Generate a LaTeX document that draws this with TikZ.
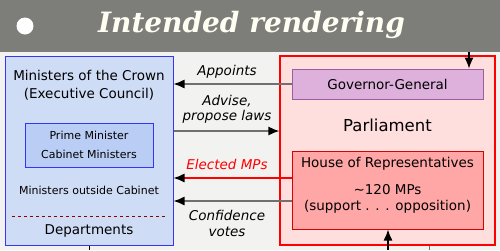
\documentclass[tikz,border=0pt]{standalone}
\usepackage{fontspec}
\setmainfont{DejaVu Sans}
\newfontfamily\titlefont{DejaVu Serif}
\usetikzlibrary{arrows.meta}
\definecolor{headgray}{HTML}{7D7D7A}
\definecolor{bggray}{HTML}{F2F2F0}
\definecolor{crownblue}{HTML}{CFDCF5}
\definecolor{cabinetblue}{HTML}{BACDF5}
\definecolor{edgeblue}{HTML}{3535F5}
\definecolor{parlred}{HTML}{FFDEDE}
\definecolor{housered}{HTML}{FFA6A6}
\definecolor{ggpurple}{HTML}{DEB1DC}
\definecolor{ggedge}{HTML}{A05AA0}
\definecolor{linegray}{HTML}{707070}
\begin{document}
\begin{tikzpicture}[x=1pt, y=-1pt,
    box/.style={draw, rectangle, inner sep=0pt},
    txt/.style={font=\fontsize{13.5}{18}\selectfont, align=center, inner sep=0pt},
    lbl/.style={font=\fontsize{13.5}{15.5}\selectfont\itshape, align=center, inner sep=0pt},
    conn/.style={draw=linegray, line width=1.3pt, -{Latex[black, length=11pt, width=9pt]}}]
    \useasboundingbox (0, 0) rectangle (500, 250);
    \fill[bggray] (0, 52) rectangle (500, 250);
    \fill[headgray] (0, 0) rectangle (500, 52);
    \fill[white] (25, 26) circle (8.5);
    \node[text = white!95!yellow, font = \titlefont\fontsize{28}{30}\selectfont\bfseries\itshape] (title) at (251.5, 25) {Intended rendering};

    \node[box, draw = edgeblue, fill = crownblue, line width = 1pt, minimum width = 168, minimum height = 189] (crown) at (89, 150.5) {};
    \node[box, draw = edgeblue, fill = cabinetblue, line width = 0.8pt, minimum width = 128, minimum height = 44] (cabinet) at (89, 145) {};
    \node[box, draw = red, fill = parlred, line width = 1.2pt, minimum width = 215, minimum height = 189] (parl) at (387.5, 150.5) {};
    \node[box, draw = ggedge, fill = ggpurple, line width = 0.8pt, minimum width = 191, minimum height = 30] (gg) at (387.5, 84) {};
    \node[box, draw = red!85!black, fill = housered, line width = 1pt, minimum width = 191, minimum height = 78] (house) at (387.5, 190) {};

    \node[txt] (crownname) at (89, 85) {Ministers of the Crown\\(Executive Council)};
    \node[txt, font = \fontsize{11}{19}\selectfont] (cabname) at (89, 144.5) {Prime Minister\\Cabinet Ministers};
    \node[txt, font = \fontsize{11}{14}\selectfont] (outside) at (89, 190) {Ministers outside Cabinet};
    \draw[red!55!black, densely dashed, dash pattern = on 3pt off 3pt] (12, 216) -- (166, 216);
    \node[txt] (depts) at (89, 231) {Departments};

    \node[txt] (ggname) at (387.5, 84) {Governor-General};
    \node[txt, font = \fontsize{16.5}{18}\selectfont] (parlname) at (387.5, 125) {Parliament};
    \node[txt] (housename) at (387.5, 164) {House of Representatives};
    \node[txt, font = \fontsize{13.5}{16}\selectfont] (mps) at (387.5, 199) {\textasciitilde120 MPs\\(support . . . opposition)};

    \node[lbl] (appoints) at (227, 72) {Appoints};
    \node[lbl] (advise) at (227, 109.5) {Advise,\\propose laws};
    \node[lbl, text = red] (elected) at (227, 164) {Elected MPs};
    \node[lbl, font = \fontsize{13.5}{16}\selectfont\itshape] (confidence) at (227, 223) {Confidence\\votes};

    \draw[conn] (gg.west) -- (crown.east |- gg.west);
    \draw[conn] (crown.east |- 0, 131) -- (parl.west |- 0, 131);
    \draw[conn, draw = red] (house.west |- 0, 178) -- (crown.east |- 0, 178);
    \draw[conn] (house.west |- 0, 201) -- (crown.east |- 0, 201);

    \coordinate (gtop) at (469, 52);
    \coordinate (hbot) at (388, 250);
    \coordinate (cbot) at (89, 250);
    \coordinate (pbot) at (429, 250);
    \draw[conn, draw = black] (gtop) -- (gtop |- gg.north);
    \draw[conn, draw = black] (hbot) -- (hbot |- house.south);
    \draw[black, line width = 1pt] (crown.south) -- (cbot);
    \draw[linegray, line width = 1pt] (pbot |- parl.south) -- (pbot);
\end{tikzpicture}
\end{document}
